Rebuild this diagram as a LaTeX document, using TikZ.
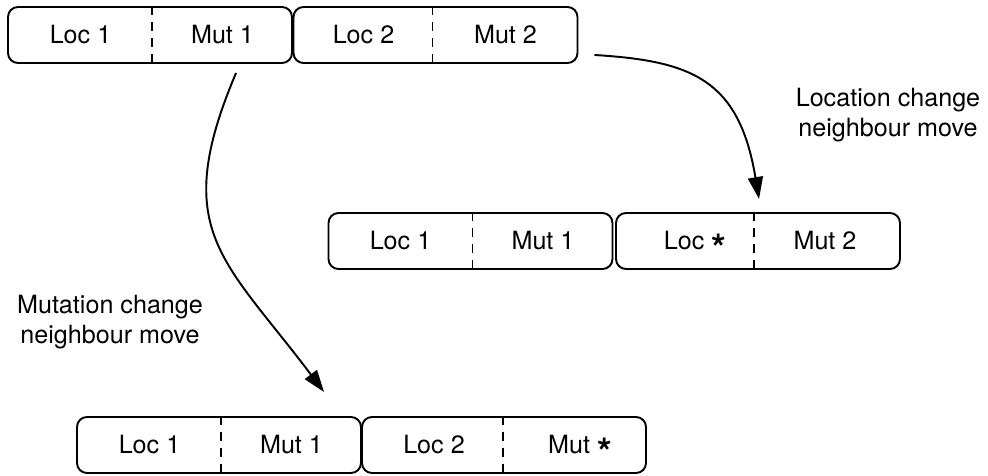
\documentclass[tikz,border=0pt]{standalone}
\usepackage{fontspec}
\setmainfont{TeX Gyre Heros}
\usetikzlibrary{arrows.meta,calc}

\tikzset{
  record/.style={draw, line width=1.1pt, rounded corners=2mm, minimum width=56.8mm, minimum height=11.2mm, inner sep=0pt},
  cell/.style={font=\fontsize{14.3}{17}\selectfont, inner sep=0pt},
  divider/.style={line width=0.9pt, dash pattern=on 1.8mm off 1.4mm},
  move/.style={line width=1.1pt, -{Triangle[length=4.4mm,width=3mm]}},
  caption/.style={align=center, font=\fontsize{14.3}{17}\selectfont}
}
\newcommand{\changed}{\smash{\raisebox{-0.95ex}{\scalebox{1.5}{\textbf{*}}}}}

\begin{document}
\begin{tikzpicture}[x=0.2mm, y=-0.2mm]
        \useasboundingbox (0,0) rectangle (988,475);

        %Top row
        \node [record] (topA) at (150,35) {};
        \node [cell] (topAloc) at (80.5,35) {Loc 1};
        \node [cell] (topAmut) at (222.5,35) {Mut 1};
        \draw [divider] (topA.north west) ++(145,0) -- ++(0,56);
        \node [record] (topB) at (435.5,35) {};
        \node [cell] (topBloc) at (363.5,35) {Loc 2};
        \node [cell] (topBmut) at (505.5,35) {Mut 2};
        \draw [divider] (topB.north west) ++(140,0) -- ++(0,56);

        %Location move row
        \node [record] (locA) at (470.5,241) {};
        \node [cell] (locAloc) at (400.5,241) {Loc 1};
        \node [cell] (locAmut) at (543,241) {Mut 1};
        \draw [divider] (locA.north west) ++(145,0) -- ++(0,56);
        \node [record] (locB) at (758,241) {};
        \node [cell, anchor=base] (locBloc) at (695,249) {Loc \changed};
        \node [cell] (locBmut) at (825,241) {Mut 2};
        \draw [divider] (locB.north west) ++(139,0) -- ++(0,56);

        %Mutation move row
        \node [record] (mutA) at (219,445) {};
        \node [cell] (mutAloc) at (149.5,445) {Loc 1};
        \node [cell] (mutAmut) at (291.5,445) {Mut 1};
        \draw [divider] (mutA.north west) ++(145,0) -- ++(0,56);
        \node [record] (mutB) at (504,445) {};
        \node [cell] (mutBloc) at (434,445) {Loc 2};
        \node [cell, anchor=base] (mutBmut) at (580,453) {Mut \changed};
        \draw [divider] (mutB.north west) ++(142,0) -- ++(0,56);

        %Captions
        \node [caption] (loccap) at (888,115) {Location change\\neighbour move};
        \node [caption] (mutcap) at (110,322) {Mutation change\\neighbour move};

        %Moves
        \coordinate (locfrom) at ($(topB.south east)+(16,-9)$);
        \coordinate (locto) at ($(locB.north west)+(144,-13)$);
        \coordinate (mutfrom) at ($(topA.south west)+(229,9)$);
        \coordinate (mutto) at ($(mutA.north west)+(248,-24)$);
        \draw [move] (locfrom) .. controls +(97,6) and +(-20,-120) .. (locto);
        \draw [move] (mutfrom) .. controls +(-67,158) and +(-100,-133) .. (mutto);

      \end{tikzpicture}
\end{document}
